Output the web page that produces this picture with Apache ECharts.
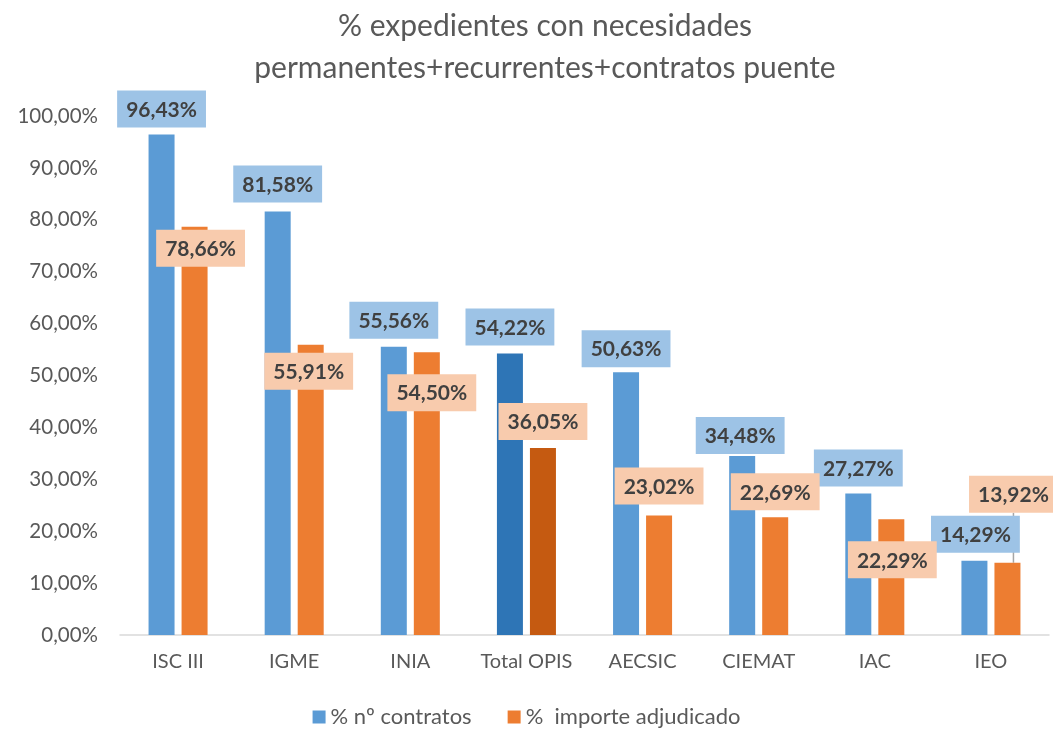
<!DOCTYPE html>
<html>
<head>
<meta charset="utf-8">
<script src="https://cdn.jsdelivr.net/npm/echarts@6/dist/echarts.min.js"></script>
<style>
	html, body { margin: 0; padding: 0; background: #fff; }
	#chart-1 { width: 1053px; height: 730px; }
</style>
</head>
<body>
<div id="chart-1"></div>
<script>
var categories = ['ISC III', 'IGME', 'INIA', 'Total OPIS', 'AECSIC', 'CIEMAT', 'IAC', 'IEO'];
var contratos = [96.43, 81.58, 55.56, 54.22, 50.63, 34.48, 27.27, 14.29];
var importe = [78.66, 55.91, 54.50, 36.05, 23.02, 22.69, 22.29, 13.92];
var yTicks = [0, 10, 20, 30, 40, 50, 60, 70, 80, 90, 100];

// where Excel moved each data label, relative to the default spot above the bar
var shiftBlue = [[0, -2], [0, -4], [0, -3], [0, -3], [0, 0], [-2, 3], [0, -2], [1, -3]];
var shiftOrange = [[6, 45], [-2, 50], [5, 64], [0, -3], [0, -6], [0, -2], [1, 64], [6, -45]];

(function(){
	var myChart = echarts.init(document.getElementById('chart-1'));
	var font = 'Lato, "Liberation Sans", sans-serif';

	function fmt(v) {
		return v.toFixed(2).replace('.', ',') + '%';
	}

	function makeData(values, dark) {
		return values.map(function(v, i) {
			var item = { value: v };
			if (categories[i] === 'Total OPIS') {
				item.itemStyle = { color: dark };
			}
			return item;
		});
	}

	function labelStyle(bg) {
		return {
			show: true,
			position: 'top',
			distance: 5,
			formatter: function(p) { return fmt(p.value); },
			color: '#404040',
			fontFamily: font,
			fontWeight: 'bold',
			fontSize: 21,
			backgroundColor: bg,
			padding: [9, 9, 7, 9]
		};
	}

	var orangeData = makeData(importe, '#C55A11');
	orangeData[7].labelLine = { show: true };

	var option = {
		animation: false,
		title: {
			text: '% expedientes con necesidades\npermanentes+recurrentes+contratos puente',
			left: 540,
			textAlign: 'center',
			top: 0,
			textStyle: {
				fontFamily: font,
				fontWeight: 'normal',
				fontSize: 30,
				lineHeight: 42,
				color: '#595959'
			}
		},
		legend: {
			bottom: -3,
			left: 'center',
			icon: 'rect',
			itemWidth: 13,
			itemHeight: 13,
			itemGap: 36,
			textStyle: {
				fontFamily: font,
				fontSize: 22,
				color: '#595959'
			},
			data: ['% nº contratos', '%  importe adjudicado']
		},
		grid: {
			left: 120,
			right: 4,
			top: 116,
			bottom: 95,
			containLabel: false
		},
		xAxis: {
			type: 'category',
			data: categories,
			axisTick: { show: false },
			axisLine: { lineStyle: { color: '#D9D9D9', width: 1.5 } },
			axisLabel: {
				interval: 0,
				fontFamily: font,
				fontSize: 20,
				color: '#595959',
				margin: 17
			}
		},
		yAxis: {
			type: 'value',
			min: yTicks[0],
			max: yTicks[yTicks.length - 1],
			interval: 10,
			splitLine: { show: false },
			axisLine: { show: false },
			axisTick: { show: false },
			axisLabel: {
				fontFamily: font,
				fontSize: 20.5,
				color: '#595959',
				margin: 22,
				formatter: function(v) { return fmt(v); }
			}
		},
		series: [{
			name: '% nº contratos',
			type: 'bar',
			barWidth: 26,
			barGap: '27%',
			itemStyle: { color: '#5B9BD5' },
			data: makeData(contratos, '#2E75B6'),
			label: labelStyle('#9DC3E6'),
			labelLayout: function(p) {
				var s = shiftBlue[p.dataIndex];
				return { dx: s[0], dy: s[1] };
			}
		}, {
			name: '%  importe adjudicado',
			type: 'bar',
			barWidth: 26,
			itemStyle: { color: '#ED7D31' },
			data: orangeData,
			label: labelStyle('#F8CBAD'),
			labelLine: { show: false, lineStyle: { color: '#A6A6A6', width: 1.5 } },
			labelLayout: function(p) {
				var s = shiftOrange[p.dataIndex];
				return { dx: s[0], dy: s[1] };
			}
		}]
	};

	myChart.setOption(option);
})();
</script>
</body>
</html>
